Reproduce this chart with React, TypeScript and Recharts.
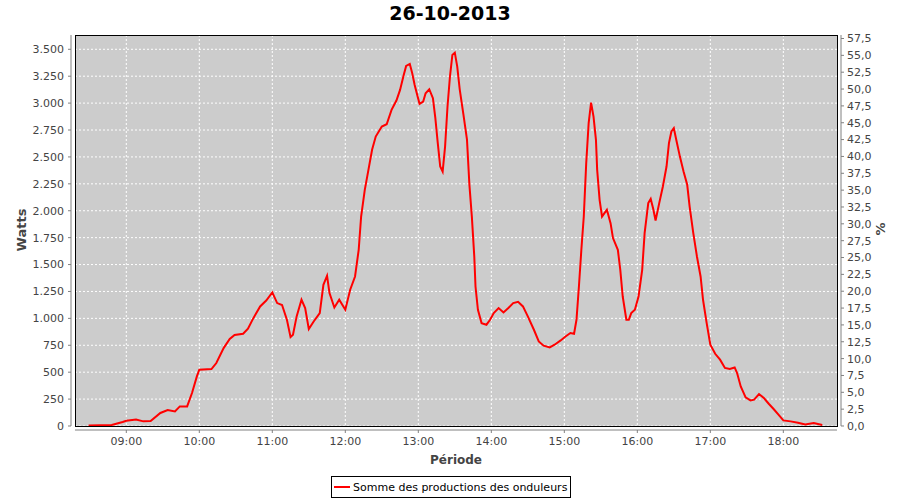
import { CartesianGrid, Line, LineChart, ReferenceLine, XAxis, YAxis } from 'recharts'

const TITLE = '26-10-2013'
const SERIES_NAME = 'Somme des productions des onduleurs'

// time of day in minutes
const MINUTES = [
  509, 528, 537, 540, 548, 554, 560, 568, 574, 580, 584, 590, 594, 598, 600, 610, 614, 620, 625, 629,
  636, 640, 644, 650, 655, 660, 664, 668, 672, 675, 677, 680, 684, 687, 690, 694, 699, 702, 705, 707,
  711, 715, 720, 724, 728, 731, 733, 736, 739, 742, 745, 750, 754, 758, 762, 765, 768, 770, 773, 775,
  777, 781, 784, 786, 789, 792, 794, 796, 798, 800, 802, 804, 806, 808, 810, 812, 814, 817, 820, 822,
  824, 826, 827, 829, 832, 836, 839, 842, 846, 850, 854, 858, 862, 866, 870, 875, 879, 883, 888, 892,
  897, 901, 905, 908, 910, 912, 914, 916, 918, 920, 922, 924, 926, 927, 929, 931, 933, 935, 938, 940,
  944, 946, 948, 951, 953, 955, 958, 961, 964, 966, 969, 971, 973, 975, 978, 981, 984, 986, 988, 990,
  992, 995, 998, 1001, 1003, 1006, 1009, 1012, 1014, 1017, 1020, 1024, 1028, 1032, 1036, 1040, 1042, 1045, 1049, 1053,
  1056, 1060, 1064, 1068, 1072, 1076, 1080, 1086, 1092, 1098, 1105, 1112,
]

const WATTS = [
  5, 10, 37, 49, 61, 43, 46, 121, 149, 136, 182, 182, 306, 461, 523, 529, 585, 724, 808, 845,
  857, 904, 993, 1111, 1166, 1241, 1142, 1124, 987, 826, 848, 1018, 1173, 1096, 900, 971, 1049, 1312, 1396, 1235,
  1101, 1173, 1080, 1266, 1389, 1637, 1946, 2194, 2380, 2566, 2689, 2782, 2804, 2937, 3024, 3123, 3262, 3346, 3364, 3278,
  3169, 2993, 3014, 3092, 3129, 3046, 2860, 2628, 2411, 2364, 2596, 2968, 3246, 3448, 3469, 3339, 3130, 2900, 2660, 2240,
  1946, 1575, 1296, 1080, 956, 941, 987, 1049, 1096, 1055, 1096, 1142, 1154, 1111, 1018, 894, 786, 746, 730, 755,
  795, 832, 864, 857, 987, 1296, 1637, 1946, 2442, 2814, 3005, 2875, 2659, 2380, 2101, 1946, 1978, 2009, 1885, 1746,
  1637, 1451, 1203, 987, 987, 1049, 1080, 1203, 1451, 1792, 2071, 2110, 2020, 1909, 2071, 2225, 2411, 2628, 2736, 2767,
  2659, 2503, 2364, 2241, 2039, 1792, 1575, 1389, 1173, 956, 755, 671, 616, 539, 529, 544, 492, 368, 266, 238,
  245, 297, 260, 207, 158, 105, 52, 43, 31, 15, 28, 9,
]

const HOUR_TICKS = [540, 600, 660, 720, 780, 840, 900, 960, 1020, 1080]
const WATT_TICKS = [0, 250, 500, 750, 1000, 1250, 1500, 1750, 2000, 2250, 2500, 2750, 3000, 3250, 3500]
const PCT_TICKS = [
  0, 2.5, 5, 7.5, 10, 12.5, 15, 17.5, 20, 22.5, 25, 27.5, 30, 32.5, 35, 37.5, 40, 42.5, 45, 47.5,
  50, 52.5, 55, 57.5,
]

// plot range, with a few pixels of room on each side for the offset axis lines
const X_PLOT: [number, number] = [497.8, 1124.1]
const X_DOMAIN: [number, number] = [494.55, 1127.4]
const W_TOP = 3632.8
const W_DOMAIN: [number, number] = [-37.2, W_TOP]
const P_DOMAIN: [number, number] = [-0.594, 58.02]

const data = MINUTES.map((m, i) => ({ m, w: WATTS[i] }))

const fmtTime = (v: number) =>
  `${String(Math.floor(v / 60)).padStart(2, '0')}:${String(Math.round(v % 60)).padStart(2, '0')}`
const fmtWatts = (v: number) => String(v).replace(/\B(?=(\d{3})+(?!\d))/g, '.')
const fmtPct = (v: number) => v.toFixed(1).replace('.', ',')

const tickStyle = { fontSize: 11, fill: '#444444', fontFamily: 'DejaVu Sans' }
const axisGray = '#808080'

export default function App() {
  return (
    <div
      style={{
        position: 'fixed',
        left: 0,
        top: 0,
        width: 900,
        height: 500,
        background: '#fff',
        fontFamily: 'DejaVu Sans',
      }}
    >
      <div
        style={{
          position: 'absolute',
          top: 4,
          left: 0,
          width: 900,
          textAlign: 'center',
          fontSize: 19,
          lineHeight: '19px',
          fontWeight: 'bold',
          color: '#000',
        }}
      >
        {TITLE}
      </div>

      <div style={{ position: 'absolute', left: 75, top: 35, width: 763, height: 392, background: '#cccccc' }} />

      <div style={{ position: 'absolute', left: 0, top: 0 }}>
        <LineChart width={900} height={500} data={data} margin={{ top: 35, right: 9, bottom: 40, left: 11 }}>
          <CartesianGrid yAxisId="w" stroke="#ffffff" strokeDasharray="2 2" />
          <XAxis
            dataKey="m"
            type="number"
            domain={X_DOMAIN}
            allowDataOverflow
            ticks={HOUR_TICKS}
            interval={0}
            tickFormatter={fmtTime}
            height={30}
            axisLine={false}
            tickLine={{ stroke: axisGray }}
            tickSize={3}
            tickMargin={4}
            tick={tickStyle}
          />
          <YAxis
            yAxisId="w"
            orientation="left"
            width={60}
            domain={W_DOMAIN}
            allowDataOverflow
            ticks={WATT_TICKS}
            interval={0}
            tickFormatter={fmtWatts}
            axisLine={false}
            tickLine={{ stroke: axisGray }}
            tickSize={3}
            tickMargin={4}
            tick={tickStyle}
          />
          <YAxis
            yAxisId="p"
            orientation="right"
            width={50}
            domain={P_DOMAIN}
            allowDataOverflow
            ticks={PCT_TICKS}
            interval={0}
            tickFormatter={fmtPct}
            axisLine={false}
            tickLine={{ stroke: axisGray }}
            tickSize={3}
            tickMargin={3}
            tick={tickStyle}
          />
          <ReferenceLine
            yAxisId="w"
            segment={[{ x: X_DOMAIN[0], y: 0 }, { x: X_DOMAIN[0], y: W_TOP }]}
            stroke={axisGray}
            ifOverflow="visible"
          />
          <ReferenceLine
            yAxisId="w"
            segment={[{ x: X_DOMAIN[1], y: 0 }, { x: X_DOMAIN[1], y: W_TOP }]}
            stroke={axisGray}
            ifOverflow="visible"
          />
          <ReferenceLine
            yAxisId="w"
            segment={[{ x: X_PLOT[0], y: W_DOMAIN[0] }, { x: X_PLOT[1], y: W_DOMAIN[0] }]}
            stroke={axisGray}
            ifOverflow="visible"
          />
          <Line
            yAxisId="w"
            type="linear"
            dataKey="w"
            stroke="#ff0000"
            strokeWidth={2}
            dot={false}
            isAnimationActive={false}
          />
        </LineChart>
      </div>

      <div
        style={{
          position: 'absolute',
          left: 75,
          top: 35,
          width: 763,
          height: 392,
          boxSizing: 'border-box',
          border: '1px solid #000',
          pointerEvents: 'none',
        }}
      />

      <div
        style={{
          position: 'absolute',
          left: 21,
          top: 230,
          transform: 'translate(-50%, -50%) rotate(-90deg)',
          fontSize: 13,
          fontWeight: 'bold',
          color: '#444444',
          whiteSpace: 'nowrap',
        }}
      >
        Watts
      </div>
      <div
        style={{
          position: 'absolute',
          left: 880,
          top: 229,
          transform: 'translate(-50%, -50%) rotate(-90deg)',
          fontSize: 13,
          fontWeight: 'bold',
          color: '#444444',
        }}
      >
        %
      </div>
      <div
        style={{
          position: 'absolute',
          left: 456,
          top: 460,
          transform: 'translate(-50%, -50%)',
          fontSize: 12,
          fontWeight: 'bold',
          color: '#444444',
          whiteSpace: 'nowrap',
        }}
      >
        Période
      </div>

      <div
        style={{
          position: 'absolute',
          left: 331,
          top: 476,
          height: 22,
          boxSizing: 'border-box',
          border: '1px solid #000',
          display: 'flex',
          alignItems: 'center',
          padding: '0 3px 0 2px',
          fontSize: 11,
          color: '#000',
          whiteSpace: 'nowrap',
        }}
      >
        <span style={{ display: 'inline-block', width: 16, height: 2, background: '#ff0000', marginRight: 3 }} />
        {SERIES_NAME}
      </div>
    </div>
  )
}
